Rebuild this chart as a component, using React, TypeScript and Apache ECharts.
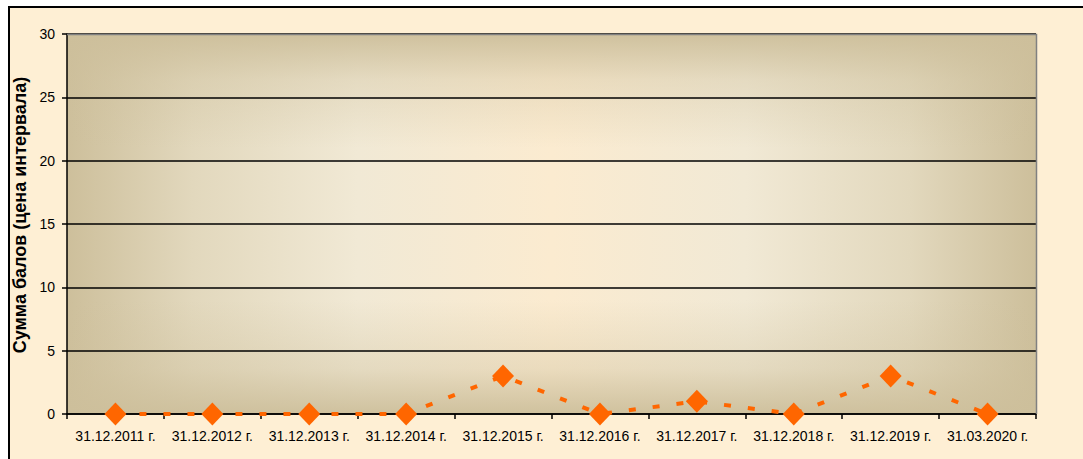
import React, { useEffect, useRef } from "react";
import * as echarts from "echarts";

const categories = [
  "31.12.2011 г.",
  "31.12.2012 г.",
  "31.12.2013 г.",
  "31.12.2014 г.",
  "31.12.2015 г.",
  "31.12.2016 г.",
  "31.12.2017 г.",
  "31.12.2018 г.",
  "31.12.2019 г.",
  "31.03.2020 г.",
];
const scores = [0, 0, 0, 0, 3, 0, 1, 0, 3, 0];
const yAxisTitle = "Сумма балов (цена интервала)";

const W = 1083;
const H = 459;
const G = { left: 67, top: 34, right: 47, bottom: 45 };

export default function App() {
  const ref = useRef<HTMLDivElement>(null);
  useEffect(() => {
    if (!ref.current) return;
    const chart = echarts.init(ref.current, undefined, { renderer: "svg" });
    const pw = W - G.left - G.right;
    const ph = H - G.top - G.bottom;
    const tan = "#CDBF9B";
    chart.setOption({
      animation: false,
      backgroundColor: "#ffffff",
      textStyle: { fontFamily: "Arial, 'Liberation Sans', sans-serif" },
      graphic: [
        {
          type: "rect",
          z: -30,
          shape: { x: 9, y: 7, width: W + 20, height: H + 20 },
          style: { fill: "#FEEFD4", stroke: "#000", lineWidth: 2 },
        },
        {
          type: "rect",
          z: -25,
          shape: { x: G.left, y: G.top, width: pw, height: ph },
          style: {
            fill: new echarts.graphic.LinearGradient(0, 0, 1, 0, [
              { offset: 0, color: tan },
              { offset: 0.13, color: "#E2D8BD" },
              { offset: 0.3, color: "#F1E9D5" },
              { offset: 0.5, color: "#FBEBD0" },
              { offset: 0.7, color: "#F1E9D5" },
              { offset: 0.87, color: "#E2D8BD" },
              { offset: 1, color: tan },
            ]),
          },
        },
        {
          type: "rect",
          z: -24,
          shape: { x: G.left, y: G.top, width: pw, height: ph },
          style: {
            fill: new echarts.graphic.LinearGradient(0, 0, 0, 1, [
              { offset: 0, color: "rgba(205,191,155,0.95)" },
              { offset: 0.12, color: "rgba(205,191,155,0.35)" },
              { offset: 0.3, color: "rgba(205,191,155,0)" },
              { offset: 0.7, color: "rgba(205,191,155,0)" },
              { offset: 0.88, color: "rgba(205,191,155,0.35)" },
              { offset: 1, color: "rgba(205,191,155,0.95)" },
            ]),
          },
        },
        {
          type: "polyline",
          z: 5,
          shape: {
            points: [
              [G.left, G.top + 0.5],
              [W - G.right + 0.5, G.top + 0.5],
              [W - G.right + 0.5, H - G.bottom],
            ],
          },
          style: { stroke: "#808080", lineWidth: 1.5, fill: null },
        },
      ],
      grid: { left: G.left, top: G.top, right: G.right, bottom: G.bottom, containLabel: false },
      xAxis: {
        type: "category",
        data: categories,
        boundaryGap: true,
        axisLine: { show: true, lineStyle: { color: "#000", width: 1.5 } },
        axisTick: { show: true, length: 5, lineStyle: { color: "#000", width: 1.5 } },
        axisLabel: { color: "#000", fontSize: 14, margin: 15, interval: 0 },
        splitLine: { show: false },
      },
      yAxis: {
        type: "value",
        min: 0,
        max: 30,
        interval: 5,
        name: yAxisTitle,
        nameLocation: "middle",
        nameGap: 30,
        nameTextStyle: { color: "#000", fontSize: 18, fontWeight: "bold", padding: [0, 0, 0, 18] },
        axisLine: { show: true, lineStyle: { color: "#000", width: 1.5 } },
        axisTick: { show: true, length: 5, lineStyle: { color: "#000", width: 1.5 } },
        axisLabel: { color: "#000", fontSize: 14, margin: 12 },
        splitLine: { show: true, lineStyle: { color: "#000", width: 1.5 } },
      },
      series: [
        {
          type: "line",
          data: scores,
          symbol: "diamond",
          symbolSize: [22, 23],
          itemStyle: { color: "#FF6600" },
          lineStyle: { color: "#FF6600", width: 4, type: [7, 17] },
          z: 10,
        },
      ],
    });
    return () => chart.dispose();
  }, []);
  return (
    <div
      ref={ref}
      style={{ position: "absolute", left: 0, top: 0, width: W, height: H }}
    />
  );
}
